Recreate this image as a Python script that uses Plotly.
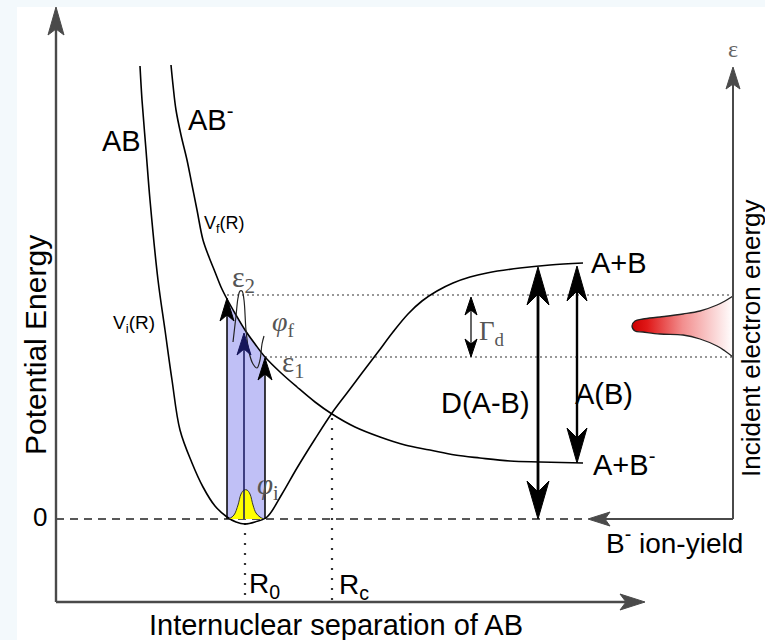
import plotly.graph_objects as go

# ---------------- data (diagram coordinates: x right, y down) ----------------
# Neutral AB potential V_i(R)
vi_x = [140, 142, 146, 150, 158, 165, 172, 180, 192, 203, 215, 227, 236, 245, 255, 267,
        282, 297, 315, 332, 347, 362, 378, 393, 408, 422, 437, 453, 470, 487, 520, 550, 583]
vi_y = [66, 100, 150, 200, 280, 330, 380, 430, 463, 487, 506, 517, 522, 524, 522, 517,
        494, 468, 439, 413, 393, 373, 352, 332, 314, 301, 291, 283, 277, 273, 268, 265, 263]
# Anion AB- potential V_f(R)
vf_x = [171, 173, 176, 181, 187, 192, 197, 203, 209, 215, 221, 227, 236, 245, 255, 265,
        280, 297, 315, 332, 355, 380, 405, 430, 455, 480, 510, 540, 583]
vf_y = [65, 85, 110, 135, 160, 185, 210, 240, 257, 272, 287, 299, 315, 330, 344, 357,
        372, 387, 402, 414, 427, 437, 445, 450, 455, 458, 461, 462, 463]
# Initial vibrational wavefunction phi_i (yellow)
phi_i_x = [229, 234, 238, 241, 244, 247, 250, 253, 256, 260, 264]
phi_i_y = [519, 515, 505, 494, 490, 490, 494, 505, 513, 517, 519]
# Final continuum wavefunction phi_f
phi_f_x = [233, 236, 238, 240, 242, 244, 246, 249, 253, 257, 260, 262, 264]
phi_f_y = [342, 316, 298, 291, 291, 300, 330, 352, 364, 368, 360, 344, 336]
# Incident electron energy distribution (red)
el_x = [733, 725, 717, 700, 683, 660, 643, 635, 632, 635, 643, 660, 683, 700, 717, 725, 733]
el_y = [296, 301, 305, 311, 314, 317, 319, 321, 326, 331, 332, 334, 335, 339, 346, 351, 357]

# energy levels / positions
E_zero = 519
E_eps2 = 295
E_eps1 = 357
E_AB_asym = 265
E_ABm_asym = 463
R_0 = 245
R_c = 332
R_left = 227
R_mid = 244
R_right = 265
X_axis_y = 602
X_axis_end = 645
Y_axis_x = 56
Y_axis_top = 7
Eps_axis_x = 733
Eps_axis_top = 67
Yield_end = 588

FONT = "Liberation Sans, Arial, sans-serif"
SERIF = "Liberation Serif, DejaVu Serif, serif"

fig = go.Figure()

# white drawing panel over pale border
fig.add_shape(type="rect", x0=17, x1=765, y0=7, y1=640, fillcolor="white",
              line_width=0, layer="below")

# shaded Franck-Condon region
sh_x = [R_left] + [x for x in vf_x if R_left <= x <= R_right] + [R_right, R_left]
sh_y = [E_zero] + [y for x, y in zip(vf_x, vf_y) if R_left <= x <= R_right] + [E_zero, E_zero]
fig.add_trace(go.Scatter(x=sh_x, y=sh_y, fill="toself", fillcolor="#c0c0f6",
                         line=dict(width=0), mode="lines", hoverinfo="skip"))

# dashed zero line and dotted lines
fig.add_trace(go.Scatter(x=[Y_axis_x, 583], y=[E_zero, E_zero], mode="lines",
                         line=dict(color="#222", width=1.4, dash="8px,6px")))
fig.add_trace(go.Scatter(x=[R_left, Eps_axis_x], y=[E_eps2, E_eps2], mode="lines",
                         line=dict(color="#777", width=1.4, dash="2px,3px")))
fig.add_trace(go.Scatter(x=[R_right, Eps_axis_x], y=[E_eps1, E_eps1], mode="lines",
                         line=dict(color="#777", width=1.4, dash="2px,3px")))
fig.add_trace(go.Scatter(x=[R_0, R_0], y=[E_zero + 4, X_axis_y], mode="lines",
                         line=dict(color="#333", width=2.2, dash="2px,8px")))
fig.add_trace(go.Scatter(x=[R_c, R_c], y=[418, X_axis_y], mode="lines",
                         line=dict(color="#333", width=2.2, dash="2px,8px")))

# potential curves
fig.add_trace(go.Scatter(x=vi_x, y=vi_y, mode="lines", line=dict(color="black", width=1.6, shape="spline")))
fig.add_trace(go.Scatter(x=vf_x, y=vf_y, mode="lines", line=dict(color="black", width=1.6, shape="spline")))

# wavefunctions
fig.add_trace(go.Scatter(x=phi_i_x, y=phi_i_y, fill="toself", fillcolor="#ffff00",
                         line=dict(color="#333", width=1, shape="spline"), mode="lines"))
fig.add_trace(go.Scatter(x=phi_f_x, y=phi_f_y, mode="lines",
                         line=dict(color="#222", width=1.2, shape="spline")))
fig.add_trace(go.Scatter(x=el_x, y=el_y, fill="toself", mode="lines",
                         line=dict(color="#222", width=1.3, shape="spline"),
                         fillgradient=dict(type="horizontal",
                                           colorscale=[[0, "#cc0000"], [0.15, "#e01818"],
                                                       [0.5, "#f28e8e"], [1, "#ffffff"]])))


def arrow(x0, y0, x1, y1, L, W, N, width, color="black", both=False):
    """Line from (x0,y0) to tip (x1,y1) with stealth arrowhead(s)."""
    dx, dy = x1 - x0, y1 - y0
    n = (dx * dx + dy * dy) ** 0.5
    ux, uy = dx / n, dy / n
    px, py = -uy, ux

    def head(tx, ty, ux, uy):
        bx, by = tx - L * ux, ty - L * uy
        nx, ny = tx - N * ux, ty - N * uy
        return ([tx, bx + W * px, nx, bx - W * px, tx],
                [ty, by + W * py, ny, by - W * py, ty])

    sx0, sy0 = x0, y0
    if both:
        sx0, sy0 = x0 + N * ux, y0 + N * uy
    fig.add_trace(go.Scatter(x=[sx0, x1 - N * ux], y=[sy0, y1 - N * uy], mode="lines",
                             line=dict(color=color, width=width)))
    hx, hy = head(x1, y1, ux, uy)
    fig.add_trace(go.Scatter(x=hx, y=hy, mode="lines", fill="toself", fillcolor=color,
                             line=dict(color=color, width=1)))
    if both:
        hx, hy = head(x0, y0, -ux, -uy)
        fig.add_trace(go.Scatter(x=hx, y=hy, mode="lines", fill="toself", fillcolor=color,
                                 line=dict(color=color, width=1)))


# axes
AX = "#4a4a4a"
arrow(Y_axis_x, X_axis_y, Y_axis_x, Y_axis_top, 28, 8, 22, 2.4, AX)
arrow(Y_axis_x, X_axis_y, X_axis_end, X_axis_y, 25, 8, 19, 2.4, AX)
arrow(Eps_axis_x, E_zero, Eps_axis_x, Eps_axis_top, 22, 7, 17, 2.0, AX)
arrow(Eps_axis_x, E_zero, Yield_end, E_zero, 22, 7, 17, 2.0, AX)

# transition arrows
arrow(R_left, E_zero, R_left, 298, 23, 7, 17, 1.5)
arrow(R_mid, E_zero, R_mid, 333, 22, 7, 16, 1.5, "#15155a")
arrow(R_right, E_zero, R_right, 358, 22, 7, 16, 1.5)

# energy arrows
arrow(538, E_zero, 538, E_AB_asym + 2, 38, 11, 27, 2.8, both=True)
arrow(577, E_ABm_asym, 577, E_AB_asym + 1, 35, 10, 25, 2.4, both=True)
arrow(471, E_eps1, 471, E_eps2 + 2, 18, 6, 13, 1.2, both=True)

labels = [
    ("AB", 121, 141, 29, "black", FONT, 0),
    ("AB<sup>-</sup>", 210, 118, 29, "black", FONT, 0),
    ("V<sub>f</sub>(R)", 224, 224, 18, "black", FONT, 0),
    ("V<sub>i</sub>(R)", 134, 324, 19, "black", FONT, 0),
    ("ε<sub>2</sub>", 243, 279, 30, "#555", SERIF, 0),
    ("ε<sub>1</sub>", 293, 364, 29, "#555", SERIF, 0),
    ("<i>φ</i><sub>f</sub>", 283, 323, 28, "#555", SERIF, 0),
    ("<i>φ</i><sub>i</sub>", 268, 486, 29, "#555", SERIF, 0),
    ("Γ<sub>d</sub>", 492, 333, 27, "#555", SERIF, 0),
    ("0", 40, 517, 26, "black", FONT, 0),
    ("R<sub>0</sub>", 264, 585, 28, "black", FONT, 0),
    ("R<sub>c</sub>", 354, 586, 28, "black", FONT, 0),
    ("A+B", 619, 263, 29, "black", FONT, 0),
    ("A+B<sup>-</sup>", 624, 463, 29, "black", FONT, 0),
    ("D(A-B)", 485, 403, 29, "black", FONT, 0),
    ("A(B)", 604, 394, 29, "black", FONT, 0),
    ("Internuclear separation of AB", 336, 625, 29, "black", FONT, 0),
    ("Potential Energy", 35, 345, 30, "black", FONT, -90),
    ("Incident electron energy", 751, 338, 26, "black", FONT, -90),
    ("ε", 733, 49, 24, "#666", SERIF, 0),
]
ann = []
for t, x, y, s, c, f, rot in labels:
    ann.append(dict(x=x, y=y, xref="x", yref="y", text=t, showarrow=False,
                    font=dict(size=s, color=c, family=f), textangle=rot,
                    xanchor="center", yanchor="middle"))
ann.append(dict(x=745, y=541, xref="x", yref="y", text="B<sup>-</sup> ion-yield",
                showarrow=False, font=dict(size=28, color="black", family=FONT),
                xanchor="right", yanchor="middle"))

fig.update_layout(
    width=765, height=640, margin=dict(l=0, r=0, t=0, b=0),
    paper_bgcolor="#f3f9fc", plot_bgcolor="rgba(0,0,0,0)",
    showlegend=False, annotations=ann,
    xaxis=dict(range=[0, 765], visible=False, fixedrange=True),
    yaxis=dict(range=[640, 0], visible=False, fixedrange=True),
)
fig.write_html("out.html")
